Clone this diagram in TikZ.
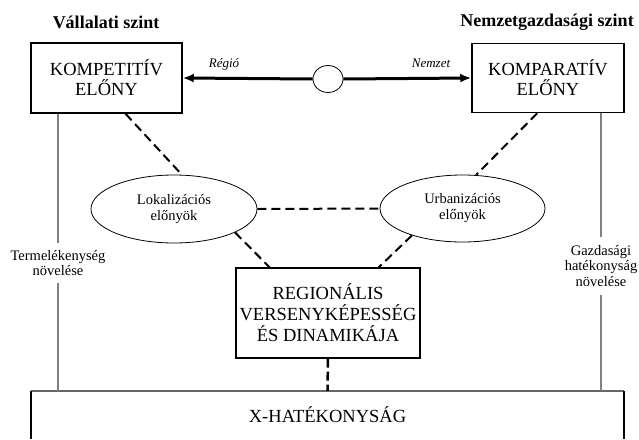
\documentclass[tikz,border=0pt]{standalone}
\usepackage{fontspec}
\setmainfont{Liberation Serif}
\usetikzlibrary{shapes.geometric,arrows.meta}
\begin{document}
\begin{tikzpicture}[x=1pt,y=-1pt,
  boxstyle/.style={draw, line width=1.5pt, inner sep=0pt, align=center,
    font=\fontsize{18.5}{20}\selectfont},
  ellstyle/.style={draw, ellipse, line width=0.8pt, inner sep=0pt, align=center,
    font=\fontsize{14.5}{16}\selectfont},
  headstyle/.style={anchor=base, font=\fontsize{18}{20}\selectfont\bfseries},
  labstyle/.style={anchor=base, font=\fontsize{13}{15}\selectfont\itshape},
  sidestyle/.style={align=center, font=\fontsize{14.5}{15.5}\selectfont},
  dashline/.style={line width=2pt, dash pattern=on 9pt off 5pt},
  arrowline/.style={line width=3pt, -{Latex[length=11pt,width=9pt]}},
  greyline/.style={draw=black!50, line width=1.2pt}
]
\useasboundingbox (0,0) rectangle (639,439);

\node[headstyle] (hl) at (106,28) {Vállalati szint};
\node[headstyle] (hr) at (547,27) {Nemzetgazdasági szint};

\node[boxstyle, minimum width=151pt, minimum height=70pt] (lbox) at (106.5,78) {KOMPETITÍV\\ELŐNY};
\node[boxstyle, minimum width=152pt, minimum height=69pt] (rbox) at (548,78) {KOMPARATÍV\\ELŐNY};
\node[draw, ellipse, line width=0.8pt, minimum width=30pt, minimum height=27pt, inner sep=0pt] (circ) at (328,79) {};

\node[labstyle] (lreg) at (224,67) {Régió};
\node[labstyle] (lnem) at (431,67) {Nemzet};

\draw[arrowline] (circ.west) -- (lbox.east);
\draw[arrowline] (circ.east) -- (rbox.west);

\node[ellstyle, minimum width=166pt, minimum height=68pt] (lell) at (174,209) {Lokalizációs\\előnyök};
\node[ellstyle, minimum width=165pt, minimum height=67pt] (rell) at (462.5,208.5) {Urbanizációs\\előnyök};

\node[boxstyle, line width=1.2pt, minimum width=184pt, minimum height=90pt,
  font=\fontsize{18.5}{21}\selectfont] (cbox) at (328,313) {REGIONÁLIS\\VERSENYKÉPESSÉG\\ÉS DINAMIKÁJA};

\node[inner sep=0pt, minimum width=593pt, minimum height=48pt,
  font=\fontsize{18.5}{20}\selectfont] (xbox) at (327.5,415) {X-HATÉKONYSÁG};
\draw[draw=black!60, line width=1.5pt] (xbox.north west) -- (xbox.north east);
\draw[line width=2pt] (xbox.north west) -- (xbox.south west);
\draw[line width=2pt] (xbox.north east) -- (xbox.south east);

\node[sidestyle, minimum height=40pt, inner sep=0pt] (term) at (58,263) {Termelékenység\\növelése};
\node[sidestyle, minimum height=58pt, inner sep=0pt] (gazd) at (601,266) {Gazdasági\\hatékonyság\\növelése};

\draw[greyline] (lbox.south -| term) -- (term.north);
\draw[greyline] (term.south) -- (xbox.north -| term);
\draw[greyline] (rbox.south -| gazd) -- (gazd.north);
\draw[greyline] (gazd.south) -- (xbox.north -| gazd);

\draw[dashline] (lbox.-62) -- (lell.77);
\draw[dashline] (rbox.-107) -- (rell.68);
\draw[dashline] (lell.east) -- (rell.west);
\draw[dashline] (lell.-21) -- (cbox.142);
\draw[dashline] (rell.208) -- (cbox.42);
\draw[line width=2.5pt, dash pattern=on 9pt off 4pt] (cbox.south) -- (xbox.north);
\end{tikzpicture}
\end{document}
